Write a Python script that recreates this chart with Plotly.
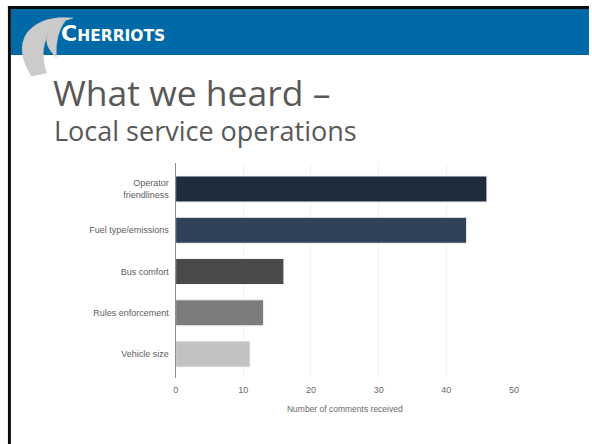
import plotly.graph_objects as go

W, H = 592, 444

# Survey feedback: comments received per topic
categories = ["Operator<br>friendliness", "Fuel type/emissions", "Bus comfort",
              "Rules enforcement", "Vehicle size"]
comments = [46, 43, 16, 13, 11]
bar_colors = ["#1f2c3e", "#2f4259", "#4a4a4a", "#7c7c7c", "#c2c2c2"]
x_ticks = [0, 10, 20, 30, 40, 50]


def px(x):
    return x / W


def py(y):
    return 1 - y / H


fig = go.Figure()
fig.add_trace(go.Bar(
    y=categories,
    x=comments,
    orientation="h",
    marker=dict(color=bar_colors, line=dict(color="#f4f4f4", width=1)),
    width=0.63,
    hoverinfo="x+y",
))

shapes = []
# slide frame: black rule along top and left
shapes.append(dict(type="rect", xref="paper", yref="paper",
                   x0=px(5), x1=px(W + 2), y0=py(9), y1=py(6),
                   fillcolor="#0a0a0a", line=dict(width=0), layer="above"))
shapes.append(dict(type="rect", xref="paper", yref="paper",
                   x0=px(5), x1=px(8), y0=py(H + 2), y1=py(6),
                   fillcolor="#0a0a0a", line=dict(width=0), layer="above"))
# blue header band
shapes.append(dict(type="rect", xref="paper", yref="paper",
                   x0=px(8), x1=px(W + 2), y0=py(55), y1=py(9),
                   fillcolor="#0069a7", line=dict(width=0), layer="below"))


def pth(points):
    # points given in pixel space; converted to paper fractions
    out = []
    for cmd, coords in points:
        vals = []
        for i in range(0, len(coords), 2):
            vals.append(f"{px(coords[i]):.5f},{py(coords[i + 1]):.5f}")
        out.append(cmd + " " + " ".join(vals))
    return " ".join(out) + " Z"


# logo swooshes
outer = pth([
    ("M", [29, 76]),
    ("Q", [12, 50, 25, 32]),
    ("Q", [40, 15, 71, 18]),
    ("Q", [54, 22, 45, 36]),
    ("Q", [37, 52, 44, 73]),
])
inner = pth([
    ("M", [54, 57]),
    ("Q", [40, 45, 46, 33]),
    ("Q", [51, 23, 63, 21]),
    ("Q", [53, 34, 54, 57]),
])
for p in (outer, inner):
    shapes.append(dict(type="path", xref="paper", yref="paper", path=p,
                       fillcolor="#cbcbcb", line=dict(color="#c0c0c0", width=0.5),
                       layer="above"))

annotations = [
    dict(text="<b><span style='font-size:22px'>C</span>HERRIOTS</b>",
         x=px(57), y=py(33), xref="paper", yref="paper",
         xanchor="left", yanchor="middle", showarrow=False,
         font=dict(family="DejaVu Sans, sans-serif", size=15.5, color="#ffffff")),
    dict(text="What we heard –",
         x=px(49), y=py(92), xref="paper", yref="paper",
         xanchor="left", yanchor="middle", showarrow=False,
         font=dict(family="Open Sans, sans-serif", size=35.5, color="#585858")),
    dict(text="Local service operations",
         x=px(50), y=py(130), xref="paper", yref="paper",
         xanchor="left", yanchor="middle", showarrow=False,
         font=dict(family="Open Sans, sans-serif", size=27, color="#585858")),
]

fig.update_layout(
    width=W, height=H,
    margin=dict(l=0, r=0, t=0, b=0),
    paper_bgcolor="#ffffff",
    plot_bgcolor="#ffffff",
    showlegend=False,
    bargap=0.37,
    shapes=shapes,
    annotations=annotations,
    xaxis=dict(
        domain=[px(175), px(518)],
        range=[0, 50],
        tickvals=x_ticks,
        ticktext=[str(v) for v in x_ticks],
        showgrid=True, gridcolor="#f1f1f1", gridwidth=1,
        zeroline=False, showline=False,
        ticks="", ticklabelstandoff=5,
        tickfont=dict(family="Liberation Sans, Arial, sans-serif", size=9, color="#6a6a6a"),
        title=dict(text="Number of comments received", standoff=12,
                   font=dict(family="Liberation Sans, Arial, sans-serif", size=8.5, color="#6a6a6a")),
        fixedrange=True,
    ),
    yaxis=dict(
        domain=[py(378), py(163)],
        categoryorder="array", categoryarray=categories,
        range=[4.58, -0.63],
        showgrid=False, zeroline=False,
        showline=True, linecolor="#8c8c8c", linewidth=1,
        ticks="", ticklabelstandoff=4,
        tickfont=dict(family="Liberation Sans, Arial, sans-serif", size=9, color="#5e5e5e"),
        fixedrange=True,
    ),
)

fig.write_html("out.html")
